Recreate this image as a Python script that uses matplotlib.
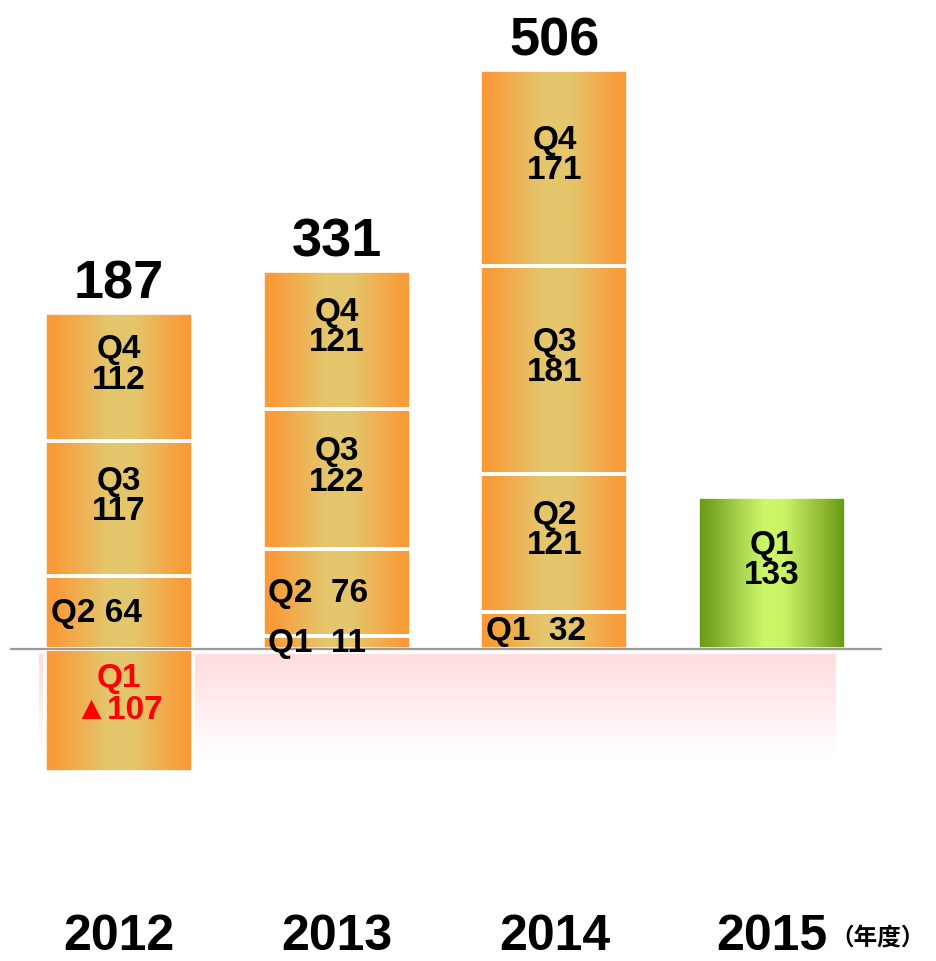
import matplotlib.pyplot as plt
import numpy as np
from matplotlib.colors import LinearSegmentedColormap


# ---------- data ---------- #
years = ['2012', '2013', '2014', '2015']
totals = [187, 331, 506, None]
q1 = [-107, 11, 32, 133]
q2 = [64, 76, 121, None]
q3 = [117, 122, 181, None]
q4 = [112, 121, 171, None]
quarters = [q1, q2, q3, q4]

plt.rcParams['font.family'] = ['Liberation Sans', 'Noto Sans CJK JP', 'DejaVu Sans']

# Colour maps for the bar gradients (edge -> centre -> edge)
orange_cmap = LinearSegmentedColormap.from_list('orange', [
    (0.0, '#F99A36'), (0.07, '#F99C3A'), (0.42, '#E4C66C'),
    (0.6, '#E4C66C'), (0.93, '#F99C3A'), (1.0, '#F99A36')])
green_cmap = LinearSegmentedColormap.from_list('green', [
    (0.0, '#6A9A12'), (0.08, '#76A520'), (0.28, '#A8D450'),
    (0.45, '#CCF86A'), (0.58, '#C8F466'), (0.8, '#98C23C'), (1.0, '#649610')])
grad = np.linspace(0, 1, 256).reshape(1, -1)

fig = plt.figure(figsize=(9.36, 9.62), dpi=100)
ax = fig.add_axes([0, 0, 1, 1])
ax.set_axis_off()

width = 0.68

for i, year in enumerate(years):
    bottom_pos = 0
    cmap = green_cmap if i == 3 else orange_cmap
    for n, series in enumerate(quarters):
        v = series[i]
        if v is None:
            continue
        bottom = 0 if v < 0 else bottom_pos
        bars = ax.bar(i, v, width=width, bottom=bottom, facecolor='none',
                      edgecolor='white', linewidth=2.6, zorder=3)
        patch = bars[0]
        x0, w = patch.get_x(), patch.get_width()
        y0, h = patch.get_y(), patch.get_height()
        ax.imshow(grad, extent=[x0, x0 + w, min(y0, y0 + h), max(y0, y0 + h)],
                  aspect='auto', cmap=cmap, zorder=2, interpolation='bilinear')
        center = y0 + h / 2
        # Segment labels
        if v < 0:
            ax.annotate(f'Q{n + 1}\n▲{-v}', (i, center), xytext=(0, 12),
                        textcoords='offset points', ha='center', va='center',
                        fontsize=24, fontweight='bold', color='#FF0000',
                        linespacing=1.05, zorder=5)
        elif v < 100:
            sep = ' ' if i == 0 else '  '
            ax.annotate(f'Q{n + 1}{sep}{v}', (x0, center), xytext=(4, 0),
                        textcoords='offset points', ha='left', va='center',
                        fontsize=24, fontweight='bold', color='black', zorder=5)
        else:
            ax.annotate(f'Q{n + 1}\n{v}', (i, center), xytext=(0, 9.5),
                        textcoords='offset points', ha='center', va='center',
                        fontsize=24, fontweight='bold', color='black',
                        linespacing=0.97, zorder=5)
        if v > 0:
            bottom_pos += v
    # Totals above the bars
    if totals[i] is not None:
        ax.annotate(str(totals[i]), (i, bottom_pos), xytext=(0, 25),
                    textcoords='offset points', ha='center', va='center_baseline',
                    fontsize=39, fontweight='bold', color='black')
    # Year labels
    ax.text(i, -250, year, ha='center', va='center', fontsize=36,
            fontweight='bold', color='black')

ax.text(3.27, -252, '（年度）', ha='left', va='center', fontsize=17,
        fontweight='bold', color='black')

# Baseline
ax.hlines(0, -0.5, 3.505, color='#9A9A9A', linewidth=1.6, zorder=4)

# Pink reflection below the baseline
fade = np.zeros((100, 1, 4))
fade[..., 0] = 1.0
fade[..., 1] = 0.84
fade[..., 2] = 0.85
fade[..., 3] = np.linspace(0.85, 0.0, 100).reshape(-1, 1)
ax.imshow(fade, extent=[-0.367, 3.293, -96, -5], aspect='auto', zorder=1,
          interpolation='bilinear')

ax.set_xlim(-0.5466, 3.753)
ax.set_ylim(-272.1, 566.9)

fig.savefig('out.png', dpi=100)
plt.close()
